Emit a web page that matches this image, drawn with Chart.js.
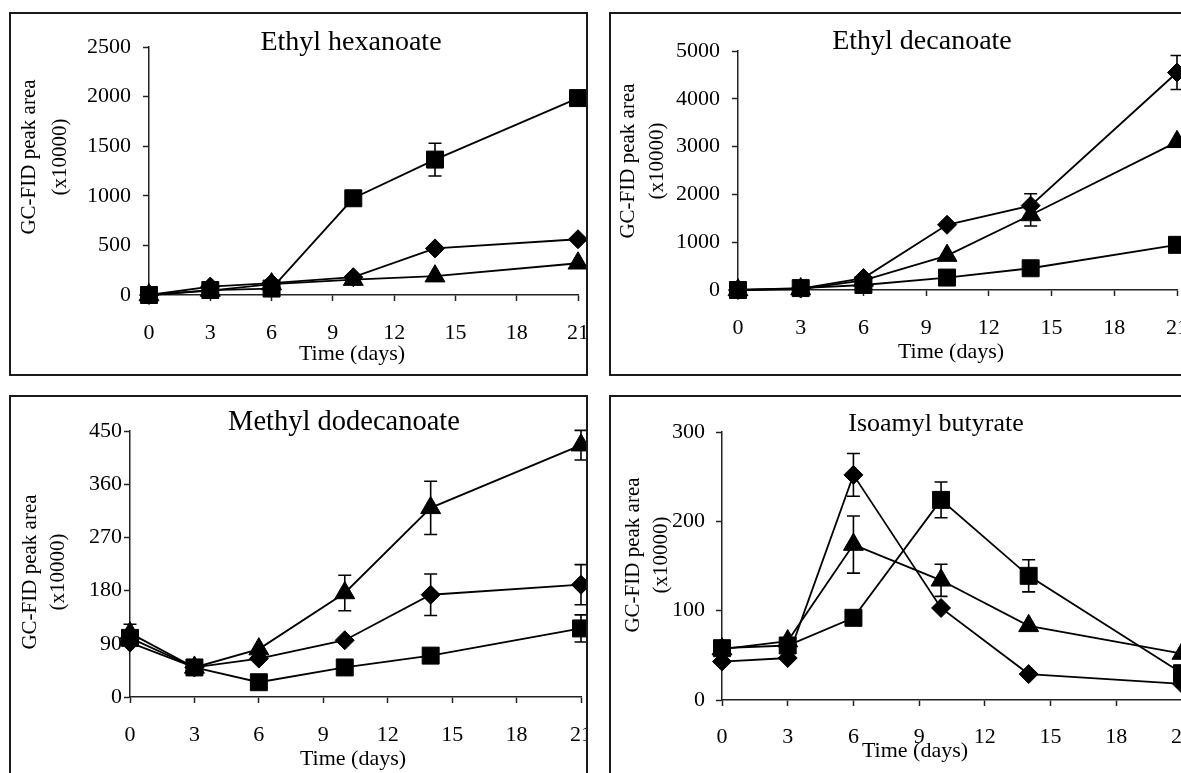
<!DOCTYPE html>
<html><head><meta charset="utf-8">
<script src="https://cdn.jsdelivr.net/npm/chart.js@4/dist/chart.umd.min.js"></script>
<style>
html,body{margin:0;padding:0;background:#fff;}
body{width:1181px;height:773px;overflow:hidden;position:relative;}
.box{position:absolute;border:2px solid #1a1a1a;overflow:hidden;box-sizing:border-box;background:#fff;}
.box canvas{position:absolute;left:-2px;top:-2px;}
</style></head><body>
<div id="b1" class="box"><canvas id="c1"></canvas></div>
<div id="b2" class="box"><canvas id="c2"></canvas></div>
<div id="b3" class="box"><canvas id="c3"></canvas></div>
<div id="b4" class="box"><canvas id="c4"></canvas></div>
<script>
// ---- data ----
const days = [0, 3, 6, 10, 14, 21];
const xTickStep = 3;
const yTitleLines = ['GC-FID peak area', '(x10000)'];
const xTitleText = 'Time (days)';

// Ethyl hexanoate
const hexDiamond = [0, 85, 120, 180, 470, 562];
const hexSquare = [0, 50, 65, 975, 1365, 1985];
const hexTriangle = [0, 45, 110, 155, 190, 320];
const hexDiamondErr = [0, 0, 0, 0, 0, 0];
const hexSquareErr = [0, 0, 0, 0, 165, 0];
const hexTriangleErr = [0, 0, 0, 0, 0, 0];

// Ethyl decanoate
const decDiamond = [0, 30, 250, 1365, 1765, 4550];
const decSquare = [0, 40, 105, 260, 455, 945];
const decTriangle = [0, 20, 200, 720, 1570, 3100];
const decDiamondErr = [0, 0, 0, 0, 250, 355];
const decSquareErr = [0, 0, 0, 0, 0, 0];
const decTriangleErr = [0, 0, 0, 0, 230, 0];

// Methyl dodecanoate
const dodDiamond = [92, 50, 65, 96, 173, 190];
const dodSquare = [100, 50, 25, 50, 70, 116];
const dodTriangle = [108, 50, 81, 176, 320, 426];
const dodDiamondErr = [0, 0, 0, 0, 35, 34];
const dodSquareErr = [0, 0, 0, 0, 0, 23];
const dodTriangleErr = [15, 0, 0, 30, 45, 25];

// Isoamyl butyrate
const isoDiamond = [43, 47, 252, 103, 29, 18];
const isoSquare = [58, 61, 92, 224, 139, 30];
const isoTriangle = [57, 66, 174, 134, 83, 52];
const isoDiamondErr = [0, 0, 24, 0, 0, 0];
const isoSquareErr = [0, 0, 0, 20, 18, 0];
const isoTriangleErr = [0, 0, 32, 18, 0, 0];

// ---- styling / layout ----
const FONT = "'Liberation Serif', 'Times New Roman', serif";
const INK = '#000';
const AXIS = '#222';
const CW = 620, CH = 420;
const markers = {
  diamond: {pointStyle: 'rectRot', radius: 9.5},
  square: {pointStyle: 'rect', radius: 12},
  triangle: {pointStyle: 'triangle', radius: 11.5}
};

const panels = [
  {canvas: 'c1', boxId: 'b1', box: {left: 9, top: 12, w: 579, h: 364},
   area: {left: 149, right: 578, top: 47, bottom: 295}, yMax: 2500, yStep: 500, yPad: 12, xPad: 19.5,
   title: {text: 'Ethyl hexanoate', x: 351, y: 50, size: 28}, xTitle: {x: 352, y: 360}, yTitle: {x1: 29, x2: 60, cy: 157},
   series: [['diamond', hexDiamond, hexDiamondErr], ['square', hexSquare, hexSquareErr], ['triangle', hexTriangle, hexTriangleErr]]},
  {canvas: 'c2', boxId: 'b2', box: {left: 609, top: 12, w: 600, h: 364},
   area: {left: 738, right: 1177, top: 51, bottom: 290}, yMax: 5000, yStep: 1000, yPad: 12, xPad: 19,
   title: {text: 'Ethyl decanoate', x: 922, y: 49, size: 28}, xTitle: {x: 951, y: 358}, yTitle: {x1: 628.5, x2: 657, cy: 161},
   series: [['diamond', decDiamond, decDiamondErr], ['square', decSquare, decSquareErr], ['triangle', decTriangle, decTriangleErr]]},
  {canvas: 'c3', boxId: 'b3', box: {left: 9, top: 395, w: 579, h: 400},
   area: {left: 130, right: 581, top: 431, bottom: 697}, yMax: 450, yStep: 90, yPad: 2, xPad: 19,
   title: {text: 'Methyl dodecanoate', x: 344, y: 430, size: 28.5}, xTitle: {x: 353, y: 765}, yTitle: {x1: 30, x2: 58.5, cy: 572},
   series: [['diamond', dodDiamond, dodDiamondErr], ['square', dodSquare, dodSquareErr], ['triangle', dodTriangle, dodTriangleErr]]},
  {canvas: 'c4', boxId: 'b4', box: {left: 609, top: 395, w: 600, h: 400},
   area: {left: 722, right: 1182, top: 432, bottom: 700}, yMax: 300, yStep: 100, yPad: 11, xPad: 18.5,
   title: {text: 'Isoamyl butyrate', x: 936, y: 431, size: 26}, xTitle: {x: 915, y: 757}, yTitle: {x1: 633, x2: 661, cy: 555},
   series: [['diamond', isoDiamond, isoDiamondErr], ['square', isoSquare, isoSquareErr], ['triangle', isoTriangle, isoTriangleErr]]}
];

const errorBars = {
  id: 'errorBars',
  afterDatasetsDraw(chart) {
    const {ctx} = chart; const xs = chart.scales.x, ys = chart.scales.y;
    ctx.save(); ctx.strokeStyle = INK; ctx.lineWidth = 1.6;
    chart.data.datasets.forEach(ds => {
      ds.data.forEach((pt, i) => {
        const e = ds.err[i]; if (!e) return;
        const px = xs.getPixelForValue(pt.x);
        const yt = ys.getPixelForValue(pt.y + e), yb = ys.getPixelForValue(pt.y - e);
        ctx.beginPath();
        ctx.moveTo(px, yt); ctx.lineTo(px, yb);
        ctx.moveTo(px - 6.5, yt); ctx.lineTo(px + 6.5, yt);
        ctx.moveTo(px - 6.5, yb); ctx.lineTo(px + 6.5, yb);
        ctx.stroke();
      });
    });
    ctx.restore();
  }
};

const panelText = {
  id: 'panelText',
  afterDraw(chart, args, o) {
    const ctx = chart.ctx; const ox = o.ox, oy = o.oy;
    ctx.save(); ctx.fillStyle = INK;
    ctx.font = o.title.size + 'px ' + FONT; ctx.textAlign = 'center'; ctx.textBaseline = 'alphabetic';
    ctx.fillText(o.title.text, o.title.x - ox, o.title.y - oy);
    ctx.font = '22px ' + FONT;
    ctx.fillText(xTitleText, o.xTitle.x - ox, o.xTitle.y - oy);
    ctx.font = '21px ' + FONT;
    ctx.textBaseline = 'middle';
    [o.yTitle.x1, o.yTitle.x2].forEach((xx, k) => {
      ctx.save();
      ctx.translate(xx - ox, o.yTitle.cy - oy);
      ctx.rotate(-Math.PI / 2);
      ctx.fillText(yTitleLines[k], 0, 0);
      ctx.restore();
    });
    ctx.restore();
  }
};

panels.forEach(p => {
  const b = document.getElementById(p.boxId);
  b.style.left = p.box.left + 'px'; b.style.top = p.box.top + 'px';
  b.style.width = p.box.w + 'px'; b.style.height = p.box.h + 'px';
  const cv = document.getElementById(p.canvas);
  cv.width = CW; cv.height = CH; cv.style.width = CW + 'px'; cv.style.height = CH + 'px';
  const ox = p.box.left, oy = p.box.top;
  const yw = p.area.left - ox;
  const pr = CW - (p.area.right - ox);
  const pt = p.area.top - oy;
  const xh = CH - (p.area.bottom - oy);
  const gridOpts = {drawOnChartArea: false, drawTicks: true, tickLength: 6, tickColor: AXIS, tickWidth: 1.5};
  new Chart(cv, {
    type: 'line',
    data: {
      datasets: p.series.map(([kind, vals, err]) => ({
        data: days.map((d, i) => ({x: d, y: vals[i]})),
        err: err,
        borderColor: INK, borderWidth: 1.8,
        backgroundColor: INK,
        pointStyle: markers[kind].pointStyle,
        pointRadius: markers[kind].radius,
        pointBorderWidth: 1, pointBackgroundColor: INK, pointBorderColor: INK,
        tension: 0, fill: false, clip: false
      }))
    },
    options: {
      responsive: false, animation: false, events: [],
      layout: {padding: {left: 0, right: pr, top: pt, bottom: 0}},
      scales: {
        x: {type: 'linear', min: 0, max: 21,
            ticks: {stepSize: xTickStep, color: INK, padding: p.xPad, maxRotation: 0, autoSkip: false,
                    font: {family: FONT, size: 22}, callback: v => String(v)},
            grid: gridOpts, border: {display: true, color: AXIS, width: 1.5},
            afterFit(s) { s.height = xh; }},
        y: {type: 'linear', min: 0, max: p.yMax,
            ticks: {stepSize: p.yStep, color: INK, padding: p.yPad,
                    font: {family: FONT, size: 22}, callback: v => String(v)},
            grid: gridOpts, border: {display: true, color: AXIS, width: 1.5},
            afterFit(s) { s.width = yw; }}
      },
      plugins: {
        legend: {display: false}, tooltip: {enabled: false},
        panelText: {ox: ox, oy: oy, title: p.title, xTitle: p.xTitle, yTitle: p.yTitle}
      }
    },
    plugins: [errorBars, panelText]
  });
});
</script>
</body></html>
